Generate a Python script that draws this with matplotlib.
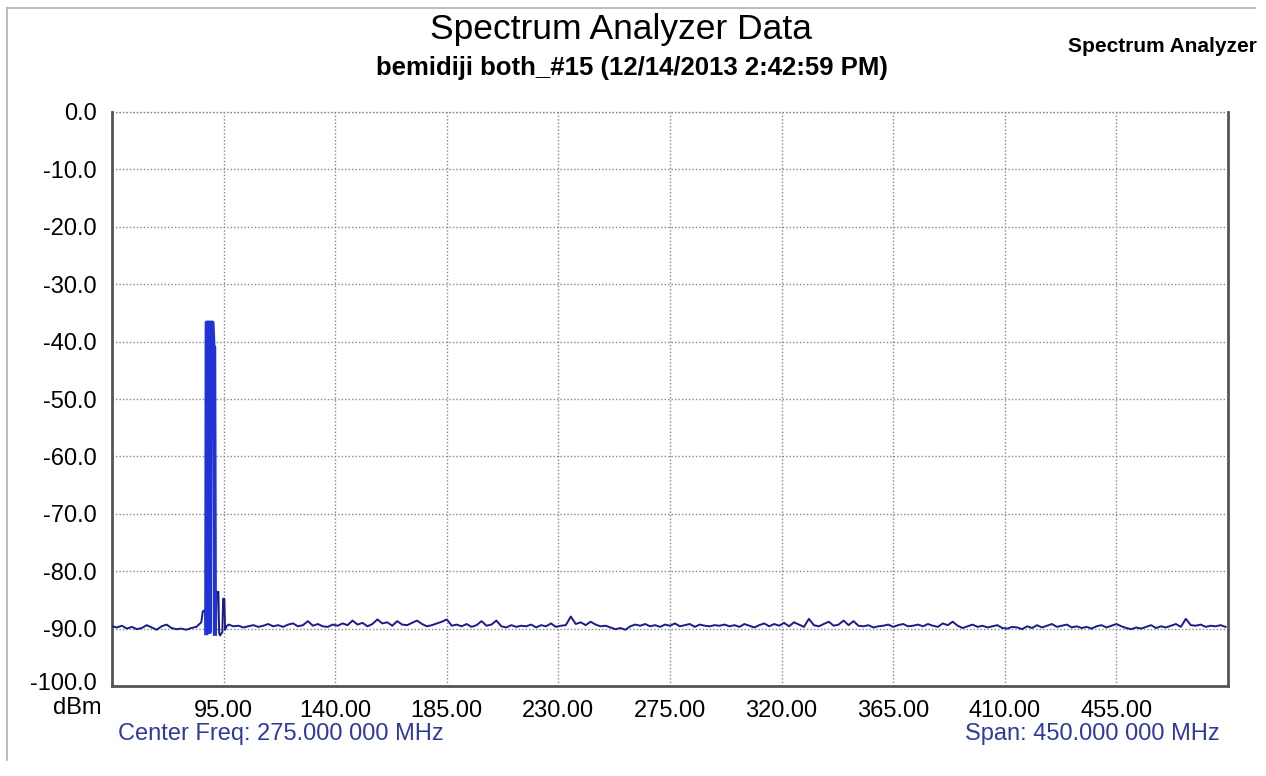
import numpy as np
import matplotlib
matplotlib.use("Agg")
import matplotlib.pyplot as plt
from matplotlib.lines import Line2D
from matplotlib.transforms import ScaledTranslation

plt.rcParams["font.family"] = ["Liberation Sans", "DejaVu Sans"]

# --- Data --------------------------------------------------------------------
# noise floor left of the FM band, 50..86 MHz every 2 MHz
left_freq = np.arange(50, 87, 2)
left_dbm = [-89.6, -89.8, -89.5, -90.0, -89.7, -90.1, -89.9, -89.4, -89.8, -90.2,
            -89.6, -89.3, -89.9, -90.1, -90.0, -90.2, -89.9, -89.7, -88.9]

# FM band carriers around 88-96 MHz
peak_freq = [86.6, 87.4, 88.0, 88.2, 89.0, 89.4, 89.7, 90.5, 90.9, 91.2, 91.5,
             91.9, 92.2, 92.9, 93.2, 93.6, 94.0, 94.5, 94.8, 95.3, 95.6, 96.2]
peak_dbm = [-87.0, -86.8, -90.8, -36.7, -36.7, -90.6, -36.7, -36.7, -41.0, -41.0,
            -90.9, -91.0, -83.6, -83.6, -90.8, -91.2, -90.9, -90.6, -84.8, -84.8,
            -90.2, -89.6]

# noise floor 97..499 MHz every 2 MHz
right_freq = np.arange(97, 500, 2)
right_dbm = [
    -89.3, -89.6, -89.5, -89.8, -89.6, -89.4, -89.7, -89.5, -89.2, -89.6,
    -89.4, -89.7, -89.3, -89.1, -89.6, -89.4, -88.7, -89.5, -89.2, -89.6,
    -89.7, -89.3, -89.5, -89.1, -89.4, -88.6, -89.3, -89.0, -89.6, -89.2,
    -88.4, -89.1, -88.9, -89.5, -88.7, -89.3, -89.4, -89.0, -88.6, -89.2,
    -89.6, -89.4, -89.1, -88.8, -88.4, -89.5, -89.3, -89.6, -89.2, -89.7,
    -89.4, -88.7, -89.5, -89.3, -88.6, -89.6, -89.8, -89.4, -89.7, -89.5,
    -89.6, -89.3, -89.8, -89.4, -89.6, -89.1, -89.7, -89.5, -89.4, -87.9,
    -89.2, -88.9, -89.4, -88.8, -89.3, -89.6, -89.5, -89.8, -90.1, -89.9,
    -90.2, -89.6, -89.3, -89.5, -89.2, -89.6, -89.4, -89.7, -89.3, -89.5,
    -89.1, -89.6, -89.4, -89.2, -89.7, -89.3, -89.5, -89.6, -89.4, -89.5,
    -89.3, -89.6, -89.4, -89.7, -89.2, -89.5, -89.8, -89.4, -89.1, -89.6,
    -89.2, -89.5, -89.0, -89.6, -88.9, -89.3, -89.7, -88.3, -89.4, -89.6,
    -89.2, -88.8, -89.5, -89.3, -88.6, -89.4, -88.7, -89.5, -89.6, -89.4,
    -89.8, -89.6, -89.5, -89.3, -89.7, -89.4, -89.2, -89.6, -89.5, -89.3,
    -89.6, -89.2, -89.5, -89.7, -89.1, -89.4, -88.8, -89.5, -89.9, -89.6,
    -89.3, -89.7, -89.5, -89.8, -89.6, -89.4, -89.9, -90.0, -89.7, -89.8,
    -90.1, -89.6, -89.9, -89.4, -89.8, -89.5, -89.2, -89.7, -89.5, -89.3,
    -89.8, -89.6, -89.9, -89.7, -90.0, -89.6, -89.4, -89.8, -89.5, -89.2,
    -89.6, -89.9, -90.1, -89.8, -90.0, -89.7, -89.4, -89.9, -89.6, -89.8,
    -89.5, -89.2, -89.7, -88.3, -89.4, -89.5, -89.3, -89.7, -89.5, -89.6,
    -89.4, -89.7,
]

x_ticks = [95, 140, 185, 230, 275, 320, 365, 410, 455]
x_labels = ["95.00", "140.00", "185.00", "230.00", "275.00", "320.00",
            "365.00", "410.00", "455.00"]
y_ticks = list(range(0, -101, -10))
y_labels = [f"{v:.1f}" for v in y_ticks]

TITLE = "Spectrum Analyzer Data"
SUBTITLE = "bemidiji both_#15 (12/14/2013 2:42:59 PM)"
CENTER = "Center Freq: 275.000 000 MHz"
SPAN = "Span: 450.000 000 MHz"

TRACE = "#1c1c88"
BAND = "#2233d6"
LABEL_BLUE = "#2e3a9e"

# --- Plot -------------------------------------------------------------------
freq = np.concatenate([left_freq, peak_freq, right_freq])
dbm = np.concatenate([left_dbm, peak_dbm, right_dbm])

fig = plt.figure(figsize=(12.66, 7.76), dpi=100)
ax = fig.add_axes([112 / 1266, 1 - 686 / 776, (1228 - 112) / 1266, (686 - 112) / 776])

ax.plot(freq, dbm, color=TRACE, linewidth=1.4, zorder=3)
band = (freq >= 88.0) & (freq <= 91.5)
ax.plot(freq[band], dbm[band], color=BAND, linewidth=3.0, zorder=4)

ax.set_xlim(50, 500)
ax.set_ylim(-100, 0)
ax.set_xticks(x_ticks)
ax.set_xticklabels(x_labels, fontsize=17)
ax.set_yticks(y_ticks)
ax.set_yticklabels(y_labels, fontsize=17)
ax.tick_params(length=0, pad=10)
ax.tick_params(axis="y", pad=11)
# lift the bottom y label a few px so it clears the "dBm" unit below it
low = ax.get_yticklabels()[-1]
low.set_transform(low.get_transform() + ScaledTranslation(0, 3 / 72, fig.dpi_scale_trans))
ax.grid(True, color="#888888", linestyle=(0, (1, 1.5)), linewidth=1.0)
ax.axhline(0, color="#888888", linestyle=(0, (1, 1.5)), linewidth=1.0, clip_on=False)

for side in ["left", "bottom", "right"]:
    ax.spines[side].set_color("#555555")
    ax.spines[side].set_linewidth(2)
ax.spines["top"].set_visible(False)

fig.text(621 / 1266, 1 - 30 / 776, TITLE, fontsize=25.5, ha="center", va="center")
fig.text(632 / 1266, 1 - 68 / 776, SUBTITLE, fontsize=18.5, fontweight="bold",
         ha="center", va="center")
fig.text(1068 / 1266, 1 - 47 / 776, "Spectrum Analyzer", fontsize=15,
         fontweight="bold", ha="left", va="center")
fig.text(101 / 1266, 1 - 697 / 776, "dBm", fontsize=17, ha="right", va="top")
fig.text(118 / 1266, 1 - 734 / 776, CENTER, fontsize=17, color=LABEL_BLUE,
         ha="left", va="center")
fig.text(1220 / 1266, 1 - 734 / 776, SPAN, fontsize=17, color=LABEL_BLUE,
         ha="right", va="center")

# outer window frame (top and left edges)
fig.add_artist(Line2D([7 / 1266, 1255 / 1266], [1 - 8 / 776, 1 - 8 / 776],
                      color="#b0b0b0", linewidth=1.2))
fig.add_artist(Line2D([7 / 1266, 7 / 1266], [1 - 8 / 776, 1 - 760 / 776],
                      color="#b0b0b0", linewidth=1.2))

fig.savefig("out.png", dpi=100)
